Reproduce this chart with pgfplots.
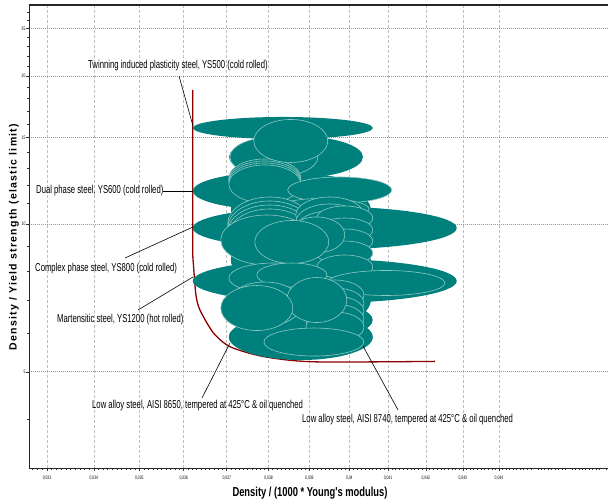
\documentclass[border=0pt]{standalone}
\usepackage{fontspec}
\setmainfont{Liberation Sans}
\newfontfamily\narrow[FakeStretch=0.67]{Liberation Sans}
\newfontfamily\narrowx[FakeStretch=0.72]{Liberation Sans}
\newfontfamily\ylabfont[LetterSpace=12]{Liberation Sans}
\usepackage{pgfplots}
\pgfplotsset{compat=1.18}
\usepackage{pgfplotstable}
\definecolor{tealc}{RGB}{0,128,124}
\definecolor{ellline}{RGB}{140,200,194}
\definecolor{curvec}{RGB}{140,0,0}
\definecolor{gridv}{RGB}{190,190,190}
\definecolor{gridh}{RGB}{150,150,150}
\pgfdeclareplotmark{ellf}{\pgfpathellipse{\pgfpointorigin}{\pgfqpoint{\rx pt}{0pt}}{\pgfqpoint{0pt}{\ry pt}}\pgfusepathqfill}
\pgfdeclareplotmark{ello}{\pgfpathellipse{\pgfpointorigin}{\pgfqpoint{\rx pt}{0pt}}{\pgfqpoint{0pt}{\ry pt}}\pgfusepathqfillstroke}
\pgfplotsset{
  ellbase/.style={scatter, only marks, mark=#1,
    visualization depends on={value \thisrow{rx}\as\rx},
    visualization depends on={value \thisrow{ry}\as\ry},
    scatter/@pre marker code/.code={\scope[fill=tealc,draw=ellline,line width=0.6pt]},
    scatter/@post marker code/.code={\endscope}},
}
\begin{document}
\begin{tikzpicture}
\begin{axis}[
  scale only axis, width=579pt, height=463pt,
  xmode=log, ymode=log,
  xmin=0.032624, xmax=0.047161, ymin=3.1848, ymax=27.927,
  axis x line*=bottom, axis y line*=left,
  axis line style={black!85, line width=0.8pt},
  xtick={0.033,0.034,0.035,0.036,0.037,0.038,0.039,0.04,0.041,0.042,0.043,0.044},
  xticklabels={{0,033},{0,034},{0,035},{0,036},{0,037},{0,038},{0,039},{0,04},{0,041},{0,042},{0,043},{0,044}},
  minor xtick={0.0327,0.0328,0.0329,
    0.0331,0.0332,0.0333,0.0334,0.0335,0.0336,0.0337,0.0338,0.0339,
    0.0341,0.0342,0.0343,0.0344,0.0345,0.0346,0.0347,0.0348,0.0349,
    0.0351,0.0352,0.0353,0.0354,0.0355,0.0356,0.0357,0.0358,0.0359,
    0.0361,0.0362,0.0363,0.0364,0.0365,0.0366,0.0367,0.0368,0.0369,
    0.0371,0.0372,0.0373,0.0374,0.0375,0.0376,0.0377,0.0378,0.0379,
    0.0381,0.0382,0.0383,0.0384,0.0385,0.0386,0.0387,0.0388,0.0389,
    0.0391,0.0392,0.0393,0.0394,0.0395,0.0396,0.0397,0.0398,0.0399,
    0.0401,0.0402,0.0403,0.0404,0.0405,0.0406,0.0407,0.0408,0.0409,
    0.0411,0.0412,0.0413,0.0414,0.0415,0.0416,0.0417,0.0418,0.0419,
    0.0421,0.0422,0.0423,0.0424,0.0425,0.0426,0.0427,0.0428,0.0429,
    0.0431,0.0432,0.0433,0.0434,0.0435,0.0436,0.0437,0.0438,0.0439,
    0.0441,0.0442,0.0443,0.0444,0.0445,0.0446,0.0447,0.0448,0.0449,
    0.0451,0.0452,0.0453,0.0454,0.0455,0.0456,0.0457,0.0458,0.0459,
    0.0461,0.0462,0.0463,0.0464,0.0465,0.0466,0.0467,0.0468,0.0469,0.0471},
  ytick={5,10,15,20,25},
  yticklabels={5,10,15,20,25},
  minor ytick={4,6,7,8,9,11,12,13,14,16,17,18,19,21,22,23,24,26,27},
  tick align=outside,
  major tick length=3pt, minor tick length=2pt,
  tick style={black!80, line width=0.5pt},
  xticklabel style={font=\narrow\fontsize{5}{5}\selectfont, yshift=-1pt},
  yticklabel style={font=\narrow\fontsize{5}{5}\selectfont, xshift=3pt},
  xmajorgrids, ymajorgrids,
  x grid style={gridv, line width=0.6pt, dash pattern=on 3pt off 2pt},
  y grid style={gridh, line width=0.6pt, dash pattern=on 1pt off 1pt},
  clip=false,
  after end axis/.code={\draw[black!85, line width=1.4pt] (rel axis cs:0,1) -- (rel axis cs:1,1);},
]
% base envelopes (no outline)
\addplot[ellbase=ellf] table {
x y rx ry
0.038349 15.687 90 11
0.038667 13.691 67 21
0.038227 11.674 85 19
0.039387 9.814 132 21.5
0.039387 7.655 132 22
0.038790 5.886 72 23
0.038790 10.679 70 30
0.038790 8.447 70 30
0.038790 7.001 70 30
0.039387 6.374 48 17
};
% outlined grade ellipses
\addplot[ellbase=ello] table {
x y rx ry
0.038130 13.691 44 20
0.037912 12.408 36 19
0.037912 12.292 36 19
0.037912 12.177 36 19
0.037912 12.063 36 19
0.038544 14.759 37 21.5
0.039765 11.729 52 13
0.039312 10.729 47 10.5
0.038033 10.000 42 27
0.038033 9.814 42 27
0.038033 9.632 42 27
0.038033 9.453 42 27
0.039513 10.431 34 18
0.039513 10.094 34 18
0.039513 9.768 34 18
0.039513 9.453 34 18
0.039513 9.147 34 18
0.039513 8.852 34 18
0.039513 8.566 34 18
0.039513 8.290 34 18
0.039513 8.022 34 18
0.039892 10.285 28 12
0.039892 9.723 28 12
0.039892 9.233 28 12
0.039892 8.727 28 12
0.039892 8.174 28 12
0.039188 9.498 28 18
0.037960 9.277 46 25
0.038569 9.190 37 21.5
0.038130 7.763 45 15
0.038569 7.873 35 12
0.040946 7.583 59 12.5
0.039639 7.167 29 15
0.039639 6.904 29 15
0.039639 6.649 29 15
0.039639 6.404 29 15
0.039639 6.169 29 15
0.037912 6.871 37 22
0.039188 7.001 30 22.5
0.037719 6.743 36 22.5
0.039113 5.749 50 14
};
% selection guide line
\addplot[curvec, line width=1.3pt, smooth, tension=0.45, no marks] coordinates {
(0.03621,18.75) (0.03621,12.0) (0.03621,8.85) (0.036225,8.251) (0.036282,7.167)
(0.036375,6.680) (0.03669,6.00) (0.03709,5.62) (0.03788,5.37) (0.03910,5.24) (0.04224,5.25)
};
\end{axis}
\begin{scope}[shift={(-29pt,468pt)}, x=1pt, y=-1pt]
  \begin{scope}[every node/.style={inner sep=0pt, anchor=west, font=\narrow\fontsize{11.5}{13}\selectfont}]
    \node at (88,66) {Twinning induced plasticity steel, YS500 (cold rolled)};
    \node at (36,191) {Dual phase steel, YS600 (cold rolled)};
    \node at (35,269) {Complex phase steel, YS800 (cold rolled)};
    \node at (57,320) {Martensitic steel, YS1200 (hot rolled)};
    \node at (92,406) {Low alloy steel, AISI 8650, tempered at 425\textdegree C \& oil quenched};
    \node at (302,420) {Low alloy steel, AISI 8740, tempered at 425\textdegree C \& oil quenched};
  \end{scope}
  \draw[black, line width=0.6pt] (179,76) -- (193,126);
  \draw[black, line width=0.6pt] (163,191) -- (193,191);
  \draw[black, line width=0.6pt] (125,258) -- (193,227);
  \draw[black, line width=0.6pt] (138,310) -- (193,277);
  \draw[black, line width=0.6pt] (202,398) -- (230,343);
  \draw[black, line width=0.6pt] (398,410) -- (363,346);
  \node[rotate=90, inner sep=0pt, font=\ylabfont\bfseries\fontsize{10.5}{12}\selectfont] at (14,237) {Density / Yield strength (elastic limit)};
  \node[inner sep=0pt, font=\narrowx\bfseries\fontsize{13}{15}\selectfont] at (310,493) {Density / (1000 * Young's modulus)};
\end{scope}
\pgfresetboundingbox
\path[use as bounding box] (-29pt,-34pt) rectangle (579pt,468pt);
\end{tikzpicture}
\end{document}
